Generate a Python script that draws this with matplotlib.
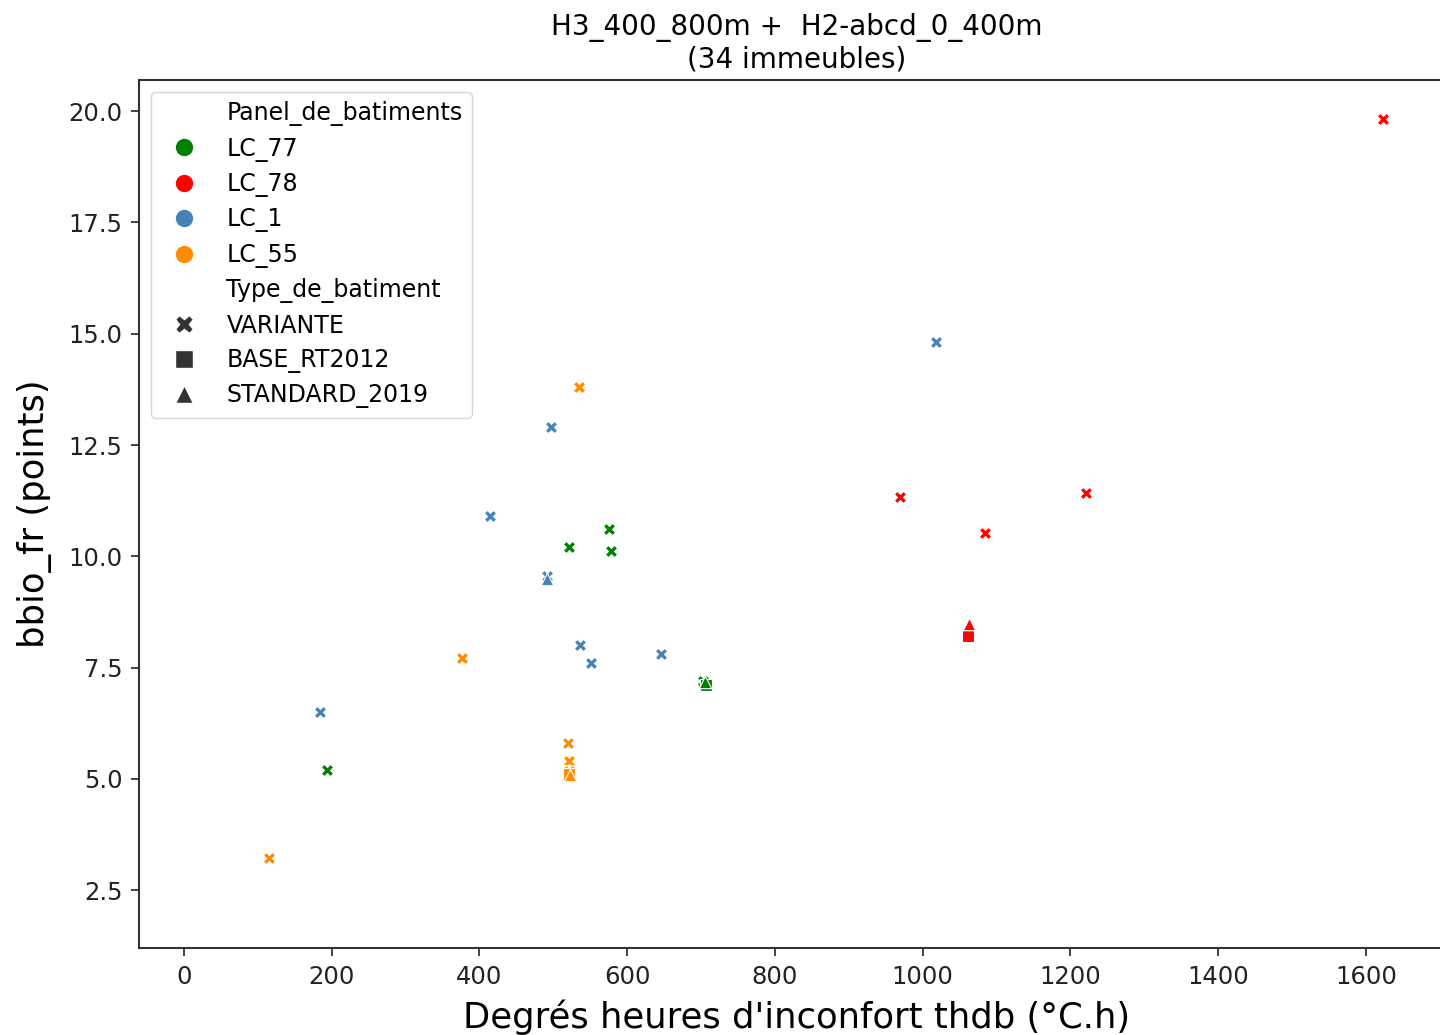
import matplotlib
matplotlib.use("Agg")
import matplotlib.pyplot as plt
from matplotlib.lines import Line2D

# ---- data ----
panels = ["LC_77", "LC_78", "LC_1", "LC_55"]
colors = {"LC_77": "#008000", "LC_78": "#ff0000", "LC_1": "#4682b4", "LC_55": "#ff8c00"}
types = ["VARIANTE", "BASE_RT2012", "STANDARD_2019"]
type_markers = {"VARIANTE": "X", "BASE_RT2012": "s", "STANDARD_2019": "^"}

lc77_x = [575, 521, 578, 194, 703, 707, 705]
lc77_y = [10.61, 10.20, 10.11, 5.19, 7.20, 7.10, 7.17]
lc77_t = ["VARIANTE", "VARIANTE", "VARIANTE", "VARIANTE", "VARIANTE", "BASE_RT2012", "STANDARD_2019"]

lc78_x = [1623, 969, 1221, 1084, 1061, 1063]
lc78_y = [19.82, 11.33, 11.42, 10.52, 8.20, 8.47]
lc78_t = ["VARIANTE", "VARIANTE", "VARIANTE", "VARIANTE", "BASE_RT2012", "STANDARD_2019"]

lc1_x = [1018, 497, 414, 491, 536, 551, 646, 184, 491]
lc1_y = [14.81, 12.90, 10.90, 9.55, 8.00, 7.60, 7.80, 6.50, 9.48]
lc1_t = ["VARIANTE"] * 8 + ["STANDARD_2019"]

lc55_x = [535, 376, 520, 521, 521, 115, 521, 522]
lc55_y = [13.80, 7.71, 5.80, 5.40, 5.17, 3.22, 5.10, 5.08]
lc55_t = ["VARIANTE"] * 6 + ["BASE_RT2012", "STANDARD_2019"]

series = {
    "LC_77": (lc77_x, lc77_y, lc77_t),
    "LC_78": (lc78_x, lc78_y, lc78_t),
    "LC_1": (lc1_x, lc1_y, lc1_t),
    "LC_55": (lc55_x, lc55_y, lc55_t),
}

title = "H3_400_800m +  H2-abcd_0_400m\n(34 immeubles)"
xlabel = "Degrés heures d'inconfort thdb (°C.h)"
ylabel = "bbio_fr (points)"
xticks = [0, 200, 400, 600, 800, 1000, 1200, 1400, 1600]
yticks = [2.5, 5.0, 7.5, 10.0, 12.5, 15.0, 17.5, 20.0]

# ---- plot ----
fig = plt.figure(figsize=(14.4, 10.35), dpi=100)
ax = fig.add_axes([0.0965, 0.084, 0.9035 + 0.01, 0.8387])

for p in panels:
    xs, ys, ts = series[p]
    for t in types:
        px = [x for x, tt in zip(xs, ts) if tt == t]
        py = [y for y, tt in zip(ys, ts) if tt == t]
        if px:
            ax.scatter(px, py, c=colors[p], marker=type_markers[t], s=80,
                       edgecolors="white", linewidths=0.8, zorder=3)

ax.set_xlim(-61, 1720)
ax.set_ylim(1.2, 20.7)
ax.set_xticks(xticks)
ax.set_yticks(yticks)
ax.set_xticklabels([str(v) for v in xticks])
ax.set_yticklabels([f"{v:.1f}" for v in yticks])
ax.tick_params(labelsize=17.5, length=6, width=1.2, colors="#222222", pad=6)
for s in ax.spines.values():
    s.set_linewidth(1.5)
    s.set_color("#333333")

ax.set_xlabel(xlabel, fontsize=25.5, labelpad=8)
ax.set_ylabel(ylabel, fontsize=25.5, labelpad=12)
ax.set_title(title, fontsize=20, pad=9, linespacing=1.15)

handles = [Line2D([], [], linestyle="none", marker="", label="Panel_de_batiments")]
for p in panels:
    handles.append(Line2D([], [], linestyle="none", marker="o", markersize=13.5,
                          markerfacecolor=colors[p], markeredgecolor="white", label=p))
handles.append(Line2D([], [], linestyle="none", marker="", label="Type_de_batiment"))
for t in types:
    handles.append(Line2D([], [], linestyle="none", marker=type_markers[t], markersize=13.5,
                          markerfacecolor="#333333", markeredgecolor="white", label=t))
leg = ax.legend(handles=handles, loc="upper left", fontsize=17, frameon=True,
                borderaxespad=0.5, handletextpad=0.8, labelspacing=0.44,
                handlelength=2.0, borderpad=0.4)
leg.get_frame().set_edgecolor("#cccccc")

fig.savefig("out.png", dpi=100)
